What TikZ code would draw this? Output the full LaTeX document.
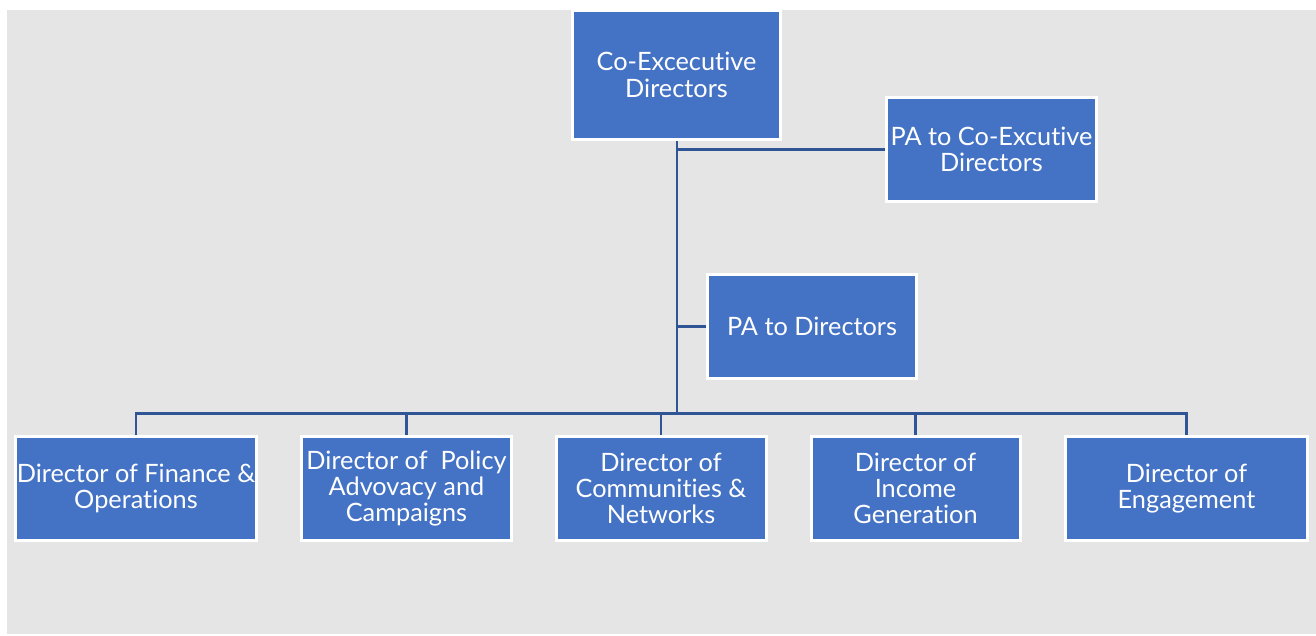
\documentclass[tikz,border=0pt]{standalone}
\usepackage{fontspec}
\setmainfont{Lato}[Ligatures={NoCommon}]
\definecolor{bgc}{HTML}{E5E5E5}
\definecolor{boxc}{HTML}{4472C4}
\definecolor{linec}{HTML}{2F5597}
\begin{document}
\begin{tikzpicture}[x=1pt,y=-1pt,
  orgbox/.style={draw=white, line width=3pt, fill=boxc, text=white, inner sep=0pt, align=center,
    font=\fontsize{25.3}{26.3}\selectfont},
  conn/.style={draw=linec, line width=2.6pt}]
\useasboundingbox (0,0) rectangle (1316,636);
\fill[bgc] (7,10) rectangle (1316,634);
\node[orgbox, minimum width=208, minimum height=129] (ceo) at (676.5,75) {Co-Excecutive\\Directors};
\node[orgbox, minimum width=210, minimum height=104] (pa1) at (991.5,149.5) {PA to Co-Excutive\\Directors};
\node[orgbox, minimum width=209, minimum height=104] (pa2) at (812,326.5) {PA to Directors};
\node[orgbox, minimum width=241, minimum height=104] (fin) at (136,488.5) {Director of Finance \&\\Operations};
\node[orgbox, minimum width=210, minimum height=104] (pol) at (406.5,488.5) {Director of~ Policy\\Advovacy and\\Campaigns};
\node[orgbox, minimum width=210, minimum height=104] (com) at (661,488.5) {Director of\\Communities \&\\Networks};
\node[orgbox, minimum width=209, minimum height=104] (inc) at (915.5,488.5) {Director of\\Income\\Generation};
\node[orgbox, minimum width=242, minimum height=104] (eng) at (1186.5,488.5) {Director of\\Engagement};
\coordinate (j) at (677,413.5);
\draw[conn] (ceo.south -| j) -- (j);
\draw[conn] (pa1.west) -- (pa1.west -| j);
\draw[conn] (pa2.west) -- (pa2.west -| j);
\draw[conn] (fin.north) -- (fin.north |- j) -- (eng.north |- j) -- (eng.north);
\draw[conn] (pol.north) -- (pol.north |- j);
\draw[conn] (com.north) -- (com.north |- j);
\draw[conn] (inc.north) -- (inc.north |- j);
\end{tikzpicture}
\end{document}
